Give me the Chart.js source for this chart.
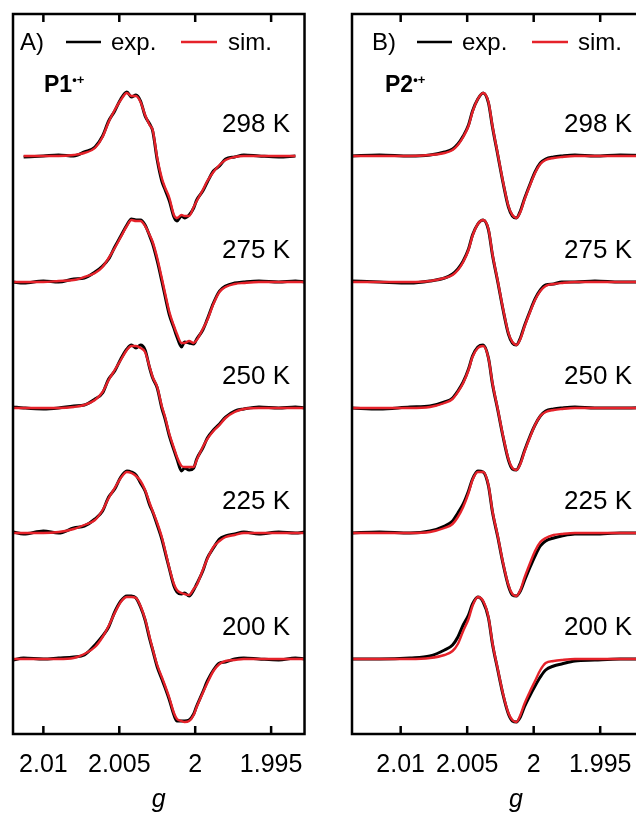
<!DOCTYPE html>
<html>
<head>
<meta charset="utf-8">
<script src="https://cdn.jsdelivr.net/npm/chart.js@4.4.1/dist/chart.umd.min.js"></script>
<style>
html, body { margin: 0; padding: 0; background: #fff; overflow: hidden; width: 636px; height: 814px; }
canvas { position: absolute; top: 0; }
#chartA { left: 0; }
#chartB { left: 320px; }
</style>
</head>
<body>
<canvas id="chartA" width="320" height="814"></canvas>
<canvas id="chartB" width="380" height="814"></canvas>
<script>
// temperatures, stacking offsets (a.u.) and g ticks
var temps = ["298 K", "275 K", "250 K", "225 K", "200 K"];
var offsets = [578, 452, 326, 201, 75];
var gTicks = [2.01, 2.005, 2, 1.995];

// P1 (panel A) g grid and spectra
var gA = [2.0120, 2.0113, 2.0100, 2.0090, 2.0080, 2.0073, 2.0066, 2.0061, 2.0057, 2.0053,
          2.0049, 2.0045, 2.0042, 2.0039, 2.0036, 2.0033, 2.0030, 2.0028, 2.0025, 2.0022,
          2.0020, 2.0017, 2.0014, 2.0012, 2.0009, 2.0007, 2.0004, 2.0001, 1.9999, 1.9995,
          1.9992, 1.9988, 1.9984, 1.9980, 1.9974, 1.9968, 1.9958, 1.9945, 1.9934, 1.9928];

var p1Sim298 = [null,0,0,0,1,3,8,19,34,46,56,63,60,60,54,41,31,26,-2,-22,-31,-42,-59,-62,-59,-60,-60,-51,-45,-34,-25,-16,-9,-4,-1,0,0,0,0,null];
var p1Exp298 = [null,-1,0,1,0,4,9,20,35,45,57,64,59,61,55,40,32,25,-4,-25,-33,-45,-61,-65,-60,-62,-59,-52,-44,-35,-26,-15,-10,-3,-1,1,0,-1,0,null];
var p1Sim275 = [0,0,0,1,2,5,9,15,24,34,45,56,62,61,61,56,47,40,24,4,-10,-30,-44,-52,-61,-61,-59,-61,-58,-47,-38,-22,-10,-5,-2,-1,0,0,0,0];
var p1Exp275 = [0,-1,1,0,3,4,10,16,23,35,46,57,63,62,62,57,46,38,21,1,-13,-33,-46,-55,-65,-60,-61,-62,-57,-48,-37,-21,-9,-4,-1,0,1,0,1,0];
var p1Sim250 = [0,0,0,0,1,3,8,16,28,38,48,58,62,62,60,56,41,31,21,2,-8,-26,-40,-49,-58,-59,-59,-59,-52,-39,-31,-23,-17,-10,-4,-1,0,0,0,0];
var p1Exp250 = [1,0,-1,0,2,3,9,15,29,37,49,59,63,60,63,58,40,30,20,0,-10,-28,-42,-51,-63,-60,-62,-60,-51,-40,-30,-22,-16,-9,-3,-1,1,0,1,0];
var p1Sim225 = [0,0,0,1,4,8,13,23,35,45,55,61,60,57,52,43,30,22,10,-4,-16,-35,-51,-57,-60,-61,-62,-56,-52,-37,-26,-14,-8,-4,-2,0,0,0,0,0];
var p1Exp225 = [1,-1,2,0,5,7,14,22,36,44,56,62,61,58,50,42,28,21,8,-6,-18,-36,-53,-59,-61,-60,-63,-57,-51,-38,-25,-15,-6,-3,-1,1,-1,1,0,1];
var p1Sim200 = [0,0,0,0,1,5,12,22,33,46,57,62,62,61,53,40,22,10,-6,-18,-26,-39,-54,-60,-62,-63,-62,-56,-48,-34,-24,-12,-5,-2,-1,0,0,0,0,0];
var p1Exp200 = [-1,1,0,1,2,4,14,23,32,47,58,63,63,61,52,39,20,9,-8,-20,-28,-41,-56,-62,-62,-62,-61,-55,-47,-33,-22,-11,-4,-3,0,1,0,-1,1,0];

// P2 (panel B)
var gB = [2.0137, 2.0116, 2.0093, 2.0078, 2.0067, 2.0061, 2.0057, 2.0053, 2.0049, 2.0046,
          2.0042, 2.0038, 2.0034, 2.0031, 2.0027, 2.0023, 2.0019, 2.0016, 2.0013, 2.0010,
          2.0007, 2.0003, 1.9999, 1.9995, 1.9991, 1.9985, 1.9979, 1.9969, 1.9954, 1.9935, 1.9905];

var p2Sim298 = [0,0,0,1,3,6,11,19,30,44,57,63,54,30,2,-26,-50,-59,-62,-56,-44,-30,-17,-8,-4,-2,-1,0,0,0,0];
var p2Exp298 = [0,1,0,1,4,7,12,20,31,45,57,63,53,29,1,-27,-51,-60,-62,-55,-43,-29,-16,-7,-3,-1,0,1,0,1,0];
var p2Sim275 = [0,0,0,1,4,7,12,20,32,46,58,62,53,28,1,-27,-51,-60,-63,-57,-45,-31,-18,-9,-4,-2,-1,0,0,0,0];
var p2Exp275 = [1,0,-1,1,4,8,13,21,33,47,58,62,52,27,0,-28,-52,-61,-63,-56,-44,-30,-17,-8,-3,-2,0,0,1,0,0];
var p2Sim250 = [0,0,0,1,5,9,16,25,38,51,60,62,50,25,-1,-28,-51,-60,-62,-56,-44,-30,-17,-8,-4,-2,-1,0,0,0,0];
var p2Exp250 = [0,-1,1,2,6,10,17,26,39,52,61,63,50,24,-2,-29,-52,-61,-62,-55,-43,-29,-17,-8,-3,-1,0,1,0,0,1];
var p2Sim225 = [0,0,0,1,5,9,16,26,40,53,61,61,48,22,-3,-30,-52,-61,-63,-57,-45,-31,-18,-9,-5,-2,-1,0,0,0,0];
var p2Exp225 = [0,1,0,2,7,12,20,29,42,54,62,61,47,21,-4,-31,-53,-62,-63,-58,-48,-35,-23,-13,-8,-5,-3,-1,-1,0,0];
var p2Sim200 = [0,0,0,1,4,8,15,28,40,53,62,58,42,16,-10,-35,-54,-61,-63,-56,-45,-33,-22,-11,-4,-2,-1,0,0,0,0];
var p2Exp200 = [0,0,1,3,9,14,22,34,44,55,62,57,41,15,-11,-36,-55,-62,-63,-58,-48,-37,-27,-18,-11,-7,-5,-2,-1,0,0];

var red = '#e5222a';
var font = '"Liberation Sans", Arial, Helvetica, sans-serif';

function makeSet(label, g, vals, off, color, width, order) {
    var pts = [];
    for (var j = 0; j < g.length; j++) {
        if (vals[j] !== null) pts.push({x: g[j], y: off + vals[j]});
    }
    return {
        label: label, data: pts, borderColor: color, borderWidth: width,
        pointRadius: 0, fill: false, cubicInterpolationMode: 'monotone', order: order
    };
}

function buildSets(g, sims, exps) {
    var sets = [];
    for (var i = 0; i < temps.length; i++) {
        sets.push(makeSet('exp. ' + temps[i], g, exps[i], offsets[i], '#000', 3, 2));
        sets.push(makeSet('sim. ' + temps[i], g, sims[i], offsets[i], red, 2.4, 1));
    }
    return sets;
}

// frame with inward ticks, legend, labels
var overlay = {
    id: 'overlay',
    afterDatasetsDraw: function(chart, args, o) {
        var ctx = chart.ctx, a = chart.chartArea, x = chart.scales.x, y = chart.scales.y;
        ctx.save();
        ctx.strokeStyle = '#000';
        ctx.lineWidth = 2.5;
        ctx.strokeRect(a.left, a.top, a.right - a.left, a.bottom - a.top);
        ctx.beginPath();
        gTicks.forEach(function(v) {
            var px = x.getPixelForValue(v);
            ctx.moveTo(px, a.bottom); ctx.lineTo(px, a.bottom - 8);
            ctx.moveTo(px, a.top); ctx.lineTo(px, a.top + 8);
        });
        ctx.stroke();

        var L = o.legendX;
        ctx.fillStyle = '#000';
        ctx.textBaseline = 'middle';
        ctx.textAlign = 'left';
        ctx.font = '24px ' + font;
        ctx.fillText(o.panel, L[0], 43);
        ctx.fillText('exp.', L[2], 43);
        ctx.fillText('sim.', L[4], 43);
        ctx.lineWidth = 2.5;
        ctx.beginPath(); ctx.moveTo(L[1], 42); ctx.lineTo(L[1] + 35, 42); ctx.stroke();
        ctx.strokeStyle = red;
        ctx.beginPath(); ctx.moveTo(L[3], 42); ctx.lineTo(L[3] + 36, 42); ctx.stroke();

        ctx.textBaseline = 'alphabetic';
        ctx.font = 'bold 23px ' + font;
        ctx.fillText(o.compound, o.compoundX, 92);
        var w = ctx.measureText(o.compound).width;
        ctx.font = 'bold 13px ' + font;
        ctx.fillText('\u2022+', o.compoundX + w, 84);

        ctx.font = '26px ' + font;
        ctx.textAlign = 'right';
        ctx.textBaseline = 'middle';
        for (var i = 0; i < temps.length; i++) {
            ctx.fillText(temps[i], o.tempX, y.getPixelForValue(offsets[i] + 31));
        }
        ctx.restore();
    }
};

function makeChart(id, g, sims, exps, xmin, xmax, pad, ov) {
    return new Chart(document.getElementById(id), {
        type: 'line',
        data: { datasets: buildSets(g, sims, exps) },
        plugins: [overlay],
        options: {
            responsive: false,
            animation: false,
            devicePixelRatio: 1,
            layout: { padding: pad },
            plugins: { legend: { display: false }, tooltip: { enabled: false }, overlay: ov },
            scales: {
                x: {
                    type: 'linear', reverse: true, min: xmin, max: xmax,
                    afterBuildTicks: function(s) { s.ticks = gTicks.map(function(v) { return {value: v}; }); },
                    afterFit: function(s) { s.height = 81; },
                    grid: { display: false, drawTicks: false },
                    border: { display: false },
                    ticks: { padding: 16, color: '#000', font: { family: font, size: 25 },
                             callback: function(v) { return String(v); } },
                    title: { display: true, text: 'g', color: '#000',
                             font: { family: font, size: 25, style: 'italic' }, padding: { top: 2, bottom: 0 } }
                },
                y: { display: false, min: 0, max: 720 }
            }
        }
    });
}

makeChart('chartA', gA,
    [p1Sim298, p1Sim275, p1Sim250, p1Sim225, p1Sim200],
    [p1Exp298, p1Exp275, p1Exp250, p1Exp225, p1Exp200],
    1.9928, 2.0120, { left: 13, right: 14, top: 14, bottom: -1 },
    { panel: 'A)', legendX: [20, 66, 111, 181, 228], compound: 'P1', compoundX: 44, tempX: 290 });

makeChart('chartB', gB,
    [p2Sim298, p2Sim275, p2Sim250, p2Sim225, p2Sim200],
    [p2Exp298, p2Exp275, p2Exp250, p2Exp225, p2Exp200],
    1.9890, 2.01366, { left: 32, right: 20, top: 14, bottom: -1 },
    { panel: 'B)', legendX: [52, 97, 142, 212, 258], compound: 'P2', compoundX: 65, tempX: 312 });
</script>
</body>
</html>
